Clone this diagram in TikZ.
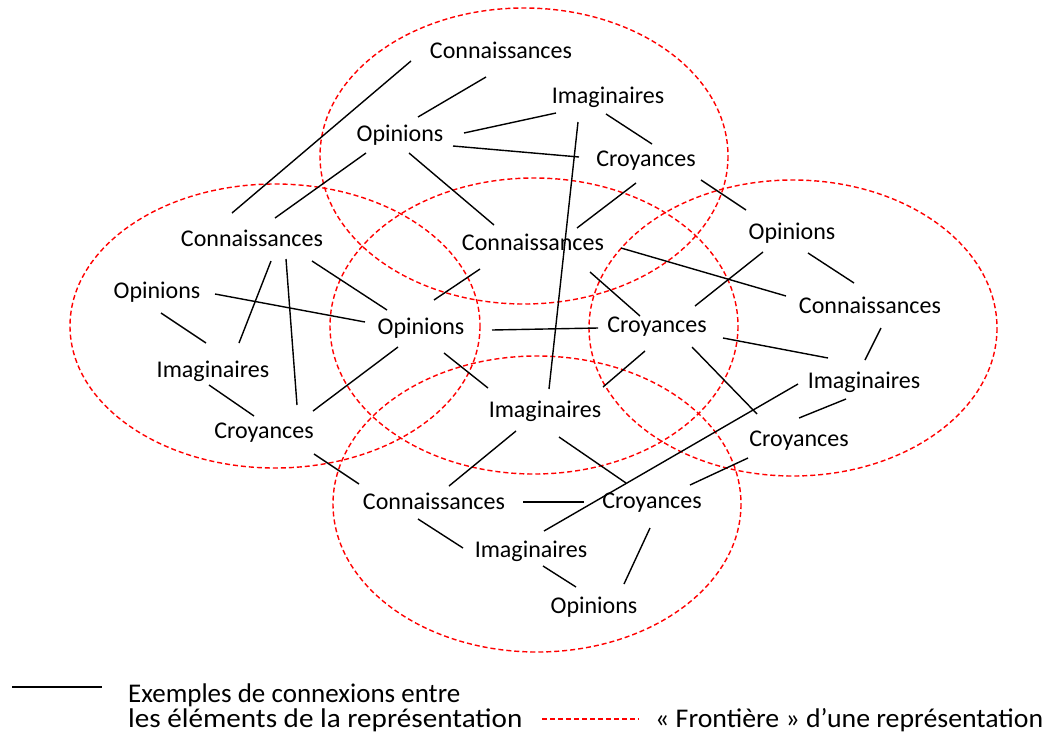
\documentclass[tikz,border=0pt]{standalone}
\usepackage{fontspec}
\setmainfont{Carlito}
\usetikzlibrary{calc}
\definecolor{Frontier}{HTML}{FF0000}

\begin{document}
\begin{tikzpicture}[x=1pt, y=-1pt,
  word/.style={font=\fontsize{24}{28}\selectfont, inner sep=0pt, text height=15.5pt, text depth=0pt},
  legend/.style={font=\fontsize{27}{31}\selectfont, inner sep=0pt, anchor=base west},
  link/.style={line width=1.4pt},
  frontier/.style={color=Frontier, line width=1.4pt, dash pattern=on 5pt off 3pt}]

 \useasboundingbox (0,0) rectangle (1056,734);

 %%%%%%%%%% Frontieres des representations %%%%%%%%%%
 \draw [frontier] (524,156) ellipse [x radius=204, y radius=148];
 \draw [frontier] (275,326) ellipse [x radius=205, y radius=142];
 \draw [frontier] (534,326) ellipse [x radius=204, y radius=148];
 \draw [frontier] (793,328) ellipse [x radius=204, y radius=148];
 \draw [frontier] (537,504) ellipse [x radius=204, y radius=148];

 %%%%%%%%%% Elements : haut %%%%%%%%%%
 \node [word] (cnT) at (501,51) {Connaissances};
 \node [word] (imT) at (608,96) {Imaginaires};
 \node [word] (opT) at (400,134) {Opinions};
 \node [word] (crT) at (646,159) {Croyances};

 %%%%%%%%%% Elements : centre %%%%%%%%%%
 \node [word] (cnC) at (533,243) {Connaissances};
 \node [word] (opC) at (421,327) {Opinions};
 \node [word] (crC) at (657,325) {Croyances};
 \node [word] (imC) at (545,410) {Imaginaires};

 %%%%%%%%%% Elements : gauche %%%%%%%%%%
 \node [word] (cnL) at (252,239) {Connaissances};
 \node [word] (opL) at (157,291) {Opinions};
 \node [word] (imL) at (213,370) {Imaginaires};
 \node [word] (crL) at (264,431) {Croyances};

 %%%%%%%%%% Elements : droite %%%%%%%%%%
 \node [word] (opR) at (792,232) {Opinions};
 \node [word] (cnR) at (870,306) {Connaissances};
 \node [word] (imR) at (864,381) {Imaginaires};
 \node [word] (crR) at (799,439) {Croyances};

 %%%%%%%%%% Elements : bas %%%%%%%%%%
 \node [word] (cnB) at (434,502) {Connaissances};
 \node [word] (crB) at (652,501) {Croyances};
 \node [word] (imB) at (531,550) {Imaginaires};
 \node [word] (opB) at (594,606) {Opinions};

 %%%%%%%%%% Connexions %%%%%%%%%%
 \draw [link] ($(cnL)+(-20,-26)$) -- ($(cnT)+(-90,10)$);
 \draw [link] ($(cnL)+(23,-21)$) -- ($(opT)+(-34,19)$);
 \draw [link] ($(opT)+(18,-17)$) -- ($(cnT)+(-15,26)$);
 \draw [link] ($(opT)+(64,-1)$) -- ($(imT)+(-52,17)$);
 \draw [link] ($(imT)+(-2,18)$) -- ($(crT)+(6,-15)$);
 \draw [link] ($(opT)+(53,12)$) -- ($(crT)+(-67,-2)$);
 \draw [link] ($(opT)+(9,19)$) -- ($(cnC)+(-39,-18)$);
 \draw [link] ($(imT)+(-30,26)$) -- ($(imC)+(4,-21)$);
 \draw [link] ($(crT)+(-10,24)$) -- ($(cnC)+(44,-15)$);
 \draw [link] ($(crT)+(55,21)$) -- ($(opR)+(-46,-22)$);

 \draw [link] ($(cnL)+(19,22)$) -- ($(imL)+(26,-27)$);
 \draw [link] ($(cnL)+(34,20)$) -- ($(crL)+(33,-26)$);
 \draw [link] ($(cnL)+(60,22)$) -- ($(opC)+(-34,-17)$);
 \draw [link] ($(opL)+(58,3)$) -- ($(opC)+(-56,-5)$);
 \draw [link] ($(opL)+(4,22)$) -- ($(imL)+(-7,-27)$);
 \draw [link] ($(imL)+(-4,15)$) -- ($(crL)+(-10,-15)$);
 \draw [link] ($(crL)+(49,-20)$) -- ($(opC)+(-23,20)$);
 \draw [link] ($(crL)+(50,23)$) -- ($(cnB)+(-75,-18)$);

 \draw [link] ($(opC)+(13,-27)$) -- ($(cnC)+(-53,26)$);
 \draw [link] ($(opC)+(71,3)$) -- ($(crC)+(-59,3)$);
 \draw [link] ($(opC)+(23,26)$) -- ($(imC)+(-57,-22)$);
 \draw [link] ($(cnC)+(57,29)$) -- ($(crC)+(-17,-9)$);
 \draw [link] ($(cnC)+(88,5)$) -- ($(cnR)+(-84,-10)$);
 \draw [link] ($(crC)+(-12,26)$) -- ($(imC)+(58,-23)$);
 \draw [link] ($(imC)+(-29,21)$) -- ($(cnB)+(15,-16)$);
 \draw [link] ($(imC)+(14,27)$) -- ($(crB)+(-26,-18)$);
 \draw [link] ($(crC)+(35,22)$) -- ($(crR)+(-42,-25)$);
 \draw [link] ($(crC)+(38,-19)$) -- ($(opR)+(-29,20)$);

 \draw [link] ($(opR)+(16,21)$) -- ($(cnR)+(-16,-23)$);
 \draw [link] ($(crC)+(66,13)$) -- ($(imR)+(-36,-23)$);
 \draw [link] ($(cnR)+(11,22)$) -- ($(imR)+(1,-21)$);
 \draw [link] ($(imR)+(-66,3)$) -- ($(imB)+(13,-19)$);
 \draw [link] ($(imR)+(-18,18)$) -- ($(crR)+(0,-21)$);
 \draw [link] ($(crR)+(-51,19)$) -- ($(crB)+(38,-16)$);

 \draw [link] ($(cnB)+(89,0)$) -- ($(crB)+(-68,1)$);
 \draw [link] ($(cnB)+(-16,17)$) -- ($(imB)+(-68,-2)$);
 \draw [link] ($(imB)+(12,16)$) -- ($(opB)+(-18,-19)$);
 \draw [link] ($(crB)+(-2,27)$) -- ($(opB)+(30,-22)$);

 %%%%%%%%%% Legende %%%%%%%%%%
 \coordinate (lgA) at (12,687);
 \coordinate (lgB) at (102,687);
 \coordinate (lgC) at (542,719);
 \coordinate (lgD) at (639,719);
 \draw [link] (lgA) -- (lgB);
 \draw [frontier] (lgC) -- (lgD);
 \node [legend] (lgLink) at (128,702) {Exemples de connexions entre};
 \node [legend, xscale=1.08] (lgLink2) at (128,727) {les éléments de la représentation};
 \node [legend, xscale=1.03] (lgFront) at (655,727) {« Frontière » d’une représentation};

\end{tikzpicture}
\end{document}
